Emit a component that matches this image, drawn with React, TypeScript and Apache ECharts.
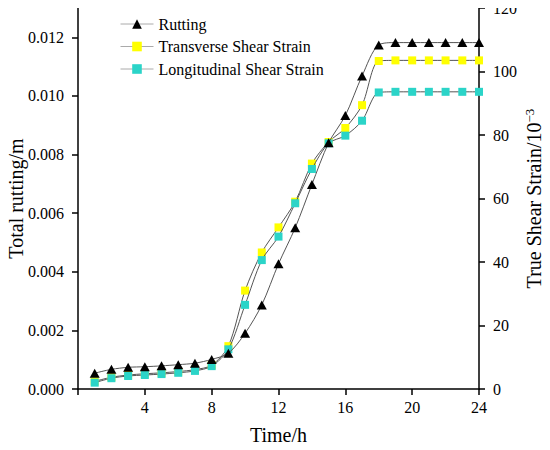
import React, { useEffect, useRef } from "react";
import * as echarts from "echarts";

const hours = [1, 2, 3, 4, 5, 6, 7, 8, 9, 10, 11, 12, 13, 14, 15, 16, 17, 18, 19, 20, 21, 22, 23, 24];
const rutting = [0.00054, 0.00067, 0.00074, 0.00076, 0.00079, 0.00083, 0.00088, 0.00101, 0.00122, 0.0019, 0.00287, 0.00427, 0.0055, 0.00698, 0.0084, 0.00933, 0.01068, 0.01174, 0.01182, 0.01182, 0.01182, 0.01182, 0.01182, 0.01182];
const transverse = [2.4, 3.7, 4.4, 4.8, 5.1, 5.5, 6.1, 7.5, 13.5, 31, 43, 50.9, 59, 71, 77.8, 82.2, 89.4, 103.3, 103.5, 103.5, 103.5, 103.5, 103.5, 103.5];
const longitudinal = [2.0, 3.4, 4.1, 4.4, 4.7, 5.1, 5.7, 7.2, 12.5, 26.5, 40.6, 48, 58.5, 69.3, 77.4, 79.8, 84.5, 93.4, 93.6, 93.6, 93.6, 93.6, 93.6, 93.6];
const leftTicks = [0, 0.002, 0.004, 0.006, 0.008, 0.01, 0.012];

const FONT = "Liberation Serif";

const mkLabel = (margin: number) => ({ color: "#000", fontFamily: FONT, fontSize: 16, margin });
const mkName = () => ({ color: "#000", fontFamily: FONT, fontSize: 20 });

export default function App() {
  const ref = useRef<HTMLDivElement>(null);
  useEffect(() => {
    if (!ref.current) return;
    const chart = echarts.init(ref.current, null, { renderer: "svg" });
    const mkLine = () => ({ show: true, lineStyle: { color: "#000", width: 1.5 } });
    const mkTick = () => ({ show: true, length: 6, lineStyle: { color: "#000", width: 1.5 } });
    const lineStyle = { color: "#555", width: 1 };
    chart.setOption({
      animation: false,
      backgroundColor: "#fff",
      grid: { left: 78, right: 71, top: 8, bottom: 61, containLabel: false, outerBoundsMode: "none" },
      legend: {
        left: 120,
        top: 16,
        orient: "vertical",
        padding: 0,
        itemWidth: 33,
        itemHeight: 12,
        itemGap: 6.5,
        lineStyle: { color: "#aaa", width: 1 },
        textStyle: { color: "#000", fontFamily: FONT, fontSize: 16 },
        data: ["Rutting", "Transverse Shear Strain", "Longitudinal Shear Strain"],
      },
      xAxis: {
        type: "value",
        min: 0,
        max: 24,
        interval: 4,
        name: "Time/h",
        nameLocation: "middle",
        nameGap: 36,
        nameMoveOverlap: false,
        nameTextStyle: mkName(),
        axisLine: mkLine(),
        axisTick: mkTick(),
        splitLine: { show: false },
        axisLabel: { ...mkLabel(10), formatter: (v: number) => (v === 0 ? "" : String(v)) },
      },
      yAxis: [
        {
          type: "value",
          min: 0,
          max: 0.013,
          position: "left",
          name: "Total rutting/m",
          nameLocation: "middle",
          nameRotate: 90,
          nameGap: 52,
          nameMoveOverlap: false,
          nameTextStyle: mkName(),
          axisLine: mkLine(),
          axisTick: { ...mkTick(), customValues: leftTicks },
          splitLine: { show: false },
          axisLabel: { ...mkLabel(14), customValues: leftTicks, formatter: (v: number) => v.toFixed(3) },
        },
        {
          type: "value",
          min: 0,
          max: 120,
          interval: 20,
          position: "right",
          name: "True Shear Strain/10{sup|−3}",
          nameLocation: "middle",
          nameRotate: 90,
          nameGap: 44,
          nameMoveOverlap: false,
          nameTextStyle: {
            ...mkName(),
            rich: { sup: { fontFamily: FONT, fontSize: 13, color: "#000", verticalAlign: "top", padding: [0, 0, 8, 0] } },
          },
          axisLine: mkLine(),
          axisTick: mkTick(),
          splitLine: { show: false },
          axisLabel: mkLabel(14),
        },
      ],
      series: [
        {
          name: "Rutting",
          type: "line",
          yAxisIndex: 0,
          smooth: 0.3,
          data: hours.map((h, i) => [h, rutting[i]]),
          symbol: "triangle",
          symbolSize: [10, 9],
          itemStyle: { color: "#000" },
          lineStyle,
          z: 4,
        },
        {
          name: "Transverse Shear Strain",
          type: "line",
          yAxisIndex: 1,
          smooth: 0.3,
          data: hours.map((h, i) => [h, transverse[i]]),
          symbol: "rect",
          symbolSize: 8,
          itemStyle: { color: "#ffff00" },
          lineStyle,
          z: 2,
        },
        {
          name: "Longitudinal Shear Strain",
          type: "line",
          yAxisIndex: 1,
          smooth: 0.3,
          data: hours.map((h, i) => [h, longitudinal[i]]),
          symbol: "rect",
          symbolSize: 8,
          itemStyle: { color: "#2bd4c8" },
          lineStyle,
          z: 3,
        },
      ],
    });
    return () => chart.dispose();
  }, []);
  return <div ref={ref} style={{ width: 550, height: 450, margin: -8 }} />;
}
